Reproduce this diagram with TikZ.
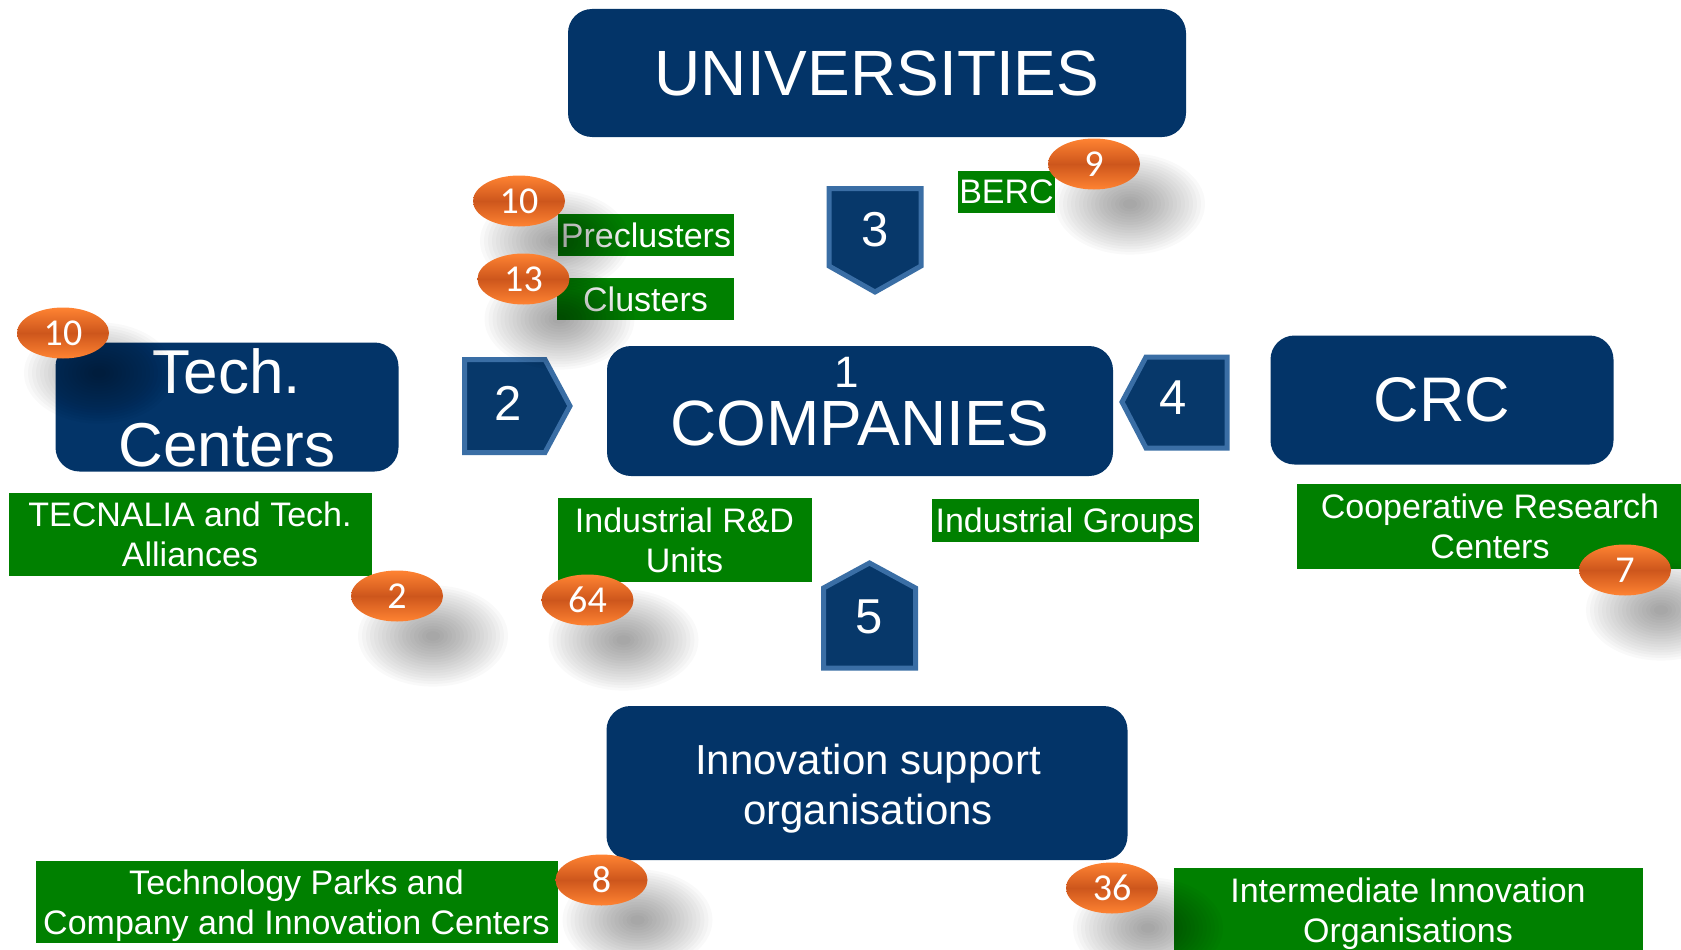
\documentclass[tikz,border=0pt]{standalone}
\usepackage{fontspec}
\setmainfont{Liberation Sans}
\newfontfamily\calibfont{Carlito}
\usetikzlibrary{shapes.geometric}
\definecolor{navy}{RGB}{3,52,104}
\definecolor{pentfill}{RGB}{7,56,106}
\definecolor{pentline}{RGB}{58,110,165}
\definecolor{grn}{RGB}{0,128,0}
\definecolor{orlight}{RGB}{255,131,50}
\definecolor{ordark}{RGB}{205,86,28}
\newcommand{\fs}[2]{\fontsize{#1}{#2}\selectfont}
\tikzset{bigbox/.style={rounded corners=24pt, fill=navy, text=white, inner sep=0pt},
         boxtext/.style={text=white, align=center, inner sep=0pt},
         pent/.style={fill=pentfill, draw=pentline, line width=5pt},
         pentnum/.style={text=white, inner sep=0pt, font=\fs{49}{55}},
         greenlbl/.style={fill=grn, text=white, align=center, inner sep=0pt, text depth=0pt, font=\fs{34}{40}},
         badge/.style={ellipse, minimum width=92pt, minimum height=51pt, inner sep=0pt,
                       top color=orlight, bottom color=orlight, middle color=ordark,
                       text=white, font=\calibfont\fs{38}{40}}}
% orange count with its soft shadow
\newcommand{\badge}[4]{%
  \foreach \k in {1,...,18}
    \fill[black,opacity=0.022] (#2+36,#3+40) ellipse ({3+4*\k} and {2+2.7*\k});
  \node[badge] (#1) at (#2,#3) {#4};
}

\begin{document}
\begin{tikzpicture}[x=1pt,y=-1pt]
   \useasboundingbox (0,0) rectangle (1681,950);

   % main boxes
   \node[bigbox, minimum width=618pt, minimum height=128pt, font=\fs{64}{70}] (univ) at (877,73) {UNIVERSITIES};
   \node[bigbox, minimum width=343pt, minimum height=129pt] (tech) at (227,407) {};
   \node[boxtext, font=\fs{62}{73}] (techtxt) at (227,408) {Tech.\\Centers};
   \node[bigbox, minimum width=506pt, minimum height=130pt] (comp) at (860,411) {};
   \node[boxtext, font=\fs{44}{48}] (compnum) at (847,372) {1};
   \node[boxtext, font=\fs{64}{70}] (comptxt) at (860,423) {COMPANIES};
   \node[bigbox, minimum width=343pt, minimum height=129pt, font=\fs{63}{70}] (crc) at (1442,400) {CRC};
   \node[bigbox, minimum width=521pt, minimum height=154pt] (innov) at (867,783) {};
   \node[boxtext, font=\fs{42}{50}] (innovtxt) at (868,789) {Innovation support\\organisations};

   % numbered arrows
   \draw[pent] (464.5,359.5) -- (545,359.5) -- (570,406) -- (545,452.5) -- (464.5,452.5) -- cycle;
   \node[pentnum] (p2) at (508,403) {2};
   \draw[pent] (829,188.5) -- (921,188.5) -- (921,266) -- (875,292) -- (829,266) -- cycle;
   \node[pentnum] (p3) at (875,230) {3};
   \draw[pent] (1227,357) -- (1227,448) -- (1146,448) -- (1122,402) -- (1146,357) -- cycle;
   \node[pentnum] (p4) at (1173,398) {4};
   \draw[pent] (823.5,668) -- (823.5,588) -- (869.5,563) -- (915.5,588) -- (915.5,668) -- cycle;
   \node[pentnum] (p5) at (869,617) {5};

   % green labels
   \node[greenlbl, minimum width=176pt, minimum height=42pt] (precl) at (646,235) {Preclusters};
   \node[greenlbl, minimum width=177pt, minimum height=42pt] (clust) at (645.5,299) {Clusters};
   \node[greenlbl, minimum width=97pt, minimum height=42pt] (berc) at (1006.5,192) {BERC};
   \node[greenlbl, minimum width=363pt, minimum height=83pt] (tecn) at (190,534) {TECNALIA and Tech.\\Alliances};
   \node[greenlbl, minimum width=254pt, minimum height=84pt] (indrd) at (684.5,540) {Industrial R\&D\\Units};
   \node[greenlbl, minimum width=267pt, minimum height=43pt] (indgr) at (1065,520) {Industrial Groups};
   \node[greenlbl, minimum width=386pt, minimum height=85pt] (coop) at (1490,526) {Cooperative Research\\Centers};
   \node[greenlbl, minimum width=522pt, minimum height=82pt] (tpark) at (296.5,902) {Technology Parks and\\Company and Innovation Centers};
   \node[greenlbl, minimum width=469pt, minimum height=84pt] (inter) at (1408,910) {Intermediate Innovation\\Organisations};

   % counts
   \badge{ntech}{63}{333}{10}
   \badge{nprecl}{519}{201}{10}
   \badge{nclust}{523.5}{279}{13}
   \badge{nberc}{1094}{164}{9}
   \badge{ntecn}{397}{596}{2}
   \badge{nindrd}{587.5}{600}{64}
   \badge{ncoop}{1625}{570}{7}
   \badge{ntpark}{601.5}{880}{8}
   \badge{ninter}{1112}{888}{36}
\end{tikzpicture}
\end{document}
